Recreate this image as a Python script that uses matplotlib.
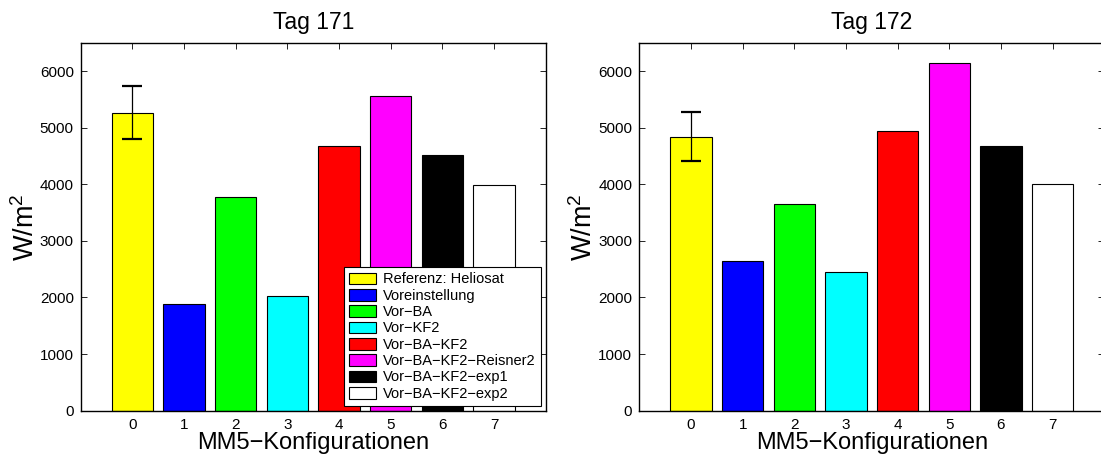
"""
Bar charts of MM5 configurations compared with Heliosat reference, days 171 and 172
"""
################################################################################
# Imports
import numpy as np
import matplotlib
matplotlib.use("Agg")
import matplotlib.pyplot as plt
from matplotlib.patches import Patch

################################################################################
# Data
configs = [0, 1, 2, 3, 4, 5, 6, 7]
config_names = [
    "Referenz: Heliosat",
    "Voreinstellung",
    "Vor\u2212BA",
    "Vor\u2212KF2",
    "Vor\u2212BA\u2212KF2",
    "Vor\u2212BA\u2212KF2\u2212Reisner2",
    "Vor\u2212BA\u2212KF2\u2212exp1",
    "Vor\u2212BA\u2212KF2\u2212exp2",
]
day171 = [5265, 1880, 3776, 2021, 4677, 5565, 4512, 3988]
day172 = [4841, 2650, 3657, 2456, 4947, 6138, 4671, 4011]
ref_err171 = 470
ref_err172 = 437

days = ["Tag 171", "Tag 172"]

# styles
bar_colours = ["#ffff00", "#0000ff", "#00ff00", "#00ffff",
               "#ff0000", "#ff00ff", "#000000", "#ffffff"]

################################################################################
# Plot
plt.rcParams["font.family"] = ["Liberation Sans", "DejaVu Sans"]
plt.rcParams["mathtext.fontset"] = "custom"
plt.rcParams["mathtext.rm"] = "Liberation Sans"
plt.rcParams["mathtext.it"] = "Liberation Sans:italic"

W, H = 1101, 458
fig = plt.figure(figsize=(W / 100, H / 100), dpi=100)

ax_w = 465 / W
ax_h = 368 / H
ax_b = (H - 410.7) / H
axes = [fig.add_axes([80.7 / W, ax_b, ax_w, ax_h]),
        fig.add_axes([639.3 / W, ax_b, ax_w, ax_h])]

for ax, title, vals, err in zip(axes, days, [day171, day172],
                                [ref_err171, ref_err172]):
    ax.bar(configs, vals, width=0.8, color=bar_colours,
           edgecolor="black", linewidth=0.8, zorder=2)
    ax.errorbar(configs[0], vals[0], yerr=err, fmt="none", ecolor="black",
                elinewidth=0.9, capsize=7.2, capthick=1.6, zorder=3)
    ax.set_xlim(-1, 8)
    ax.set_ylim(0, 6500)
    ax.set_xticks(configs)
    ax.set_yticks(np.arange(0, 6001, 1000))
    ax.tick_params(direction="in", top=True, right=True, length=4,
                   width=0.6, labelsize=11, pad=5, colors="black")
    for sp in ax.spines.values():
        sp.set_linewidth(1.0)
    ax.set_title(title, fontsize=16.5, pad=10)
    ax.set_xlabel("MM5\u2212Konfigurationen", fontsize=17, labelpad=0)
    ax.set_ylabel("W/m$^2$", fontsize=19.5, labelpad=0)

# legend on left panel
handles = [Patch(facecolor=c, edgecolor="black", linewidth=0.8)
           for c in bar_colours]
leg = axes[0].legend(handles, config_names, loc="lower right",
                     bbox_to_anchor=(0.99, 0.013), borderaxespad=0,
                     fontsize=10.5, fancybox=False, framealpha=1,
                     edgecolor="black", handlelength=1.85, handleheight=0.85,
                     handletextpad=0.5, labelspacing=0.16, borderpad=0.35)
leg.get_frame().set_linewidth(0.8)

plt.savefig("out.png", dpi=100)
plt.close()
